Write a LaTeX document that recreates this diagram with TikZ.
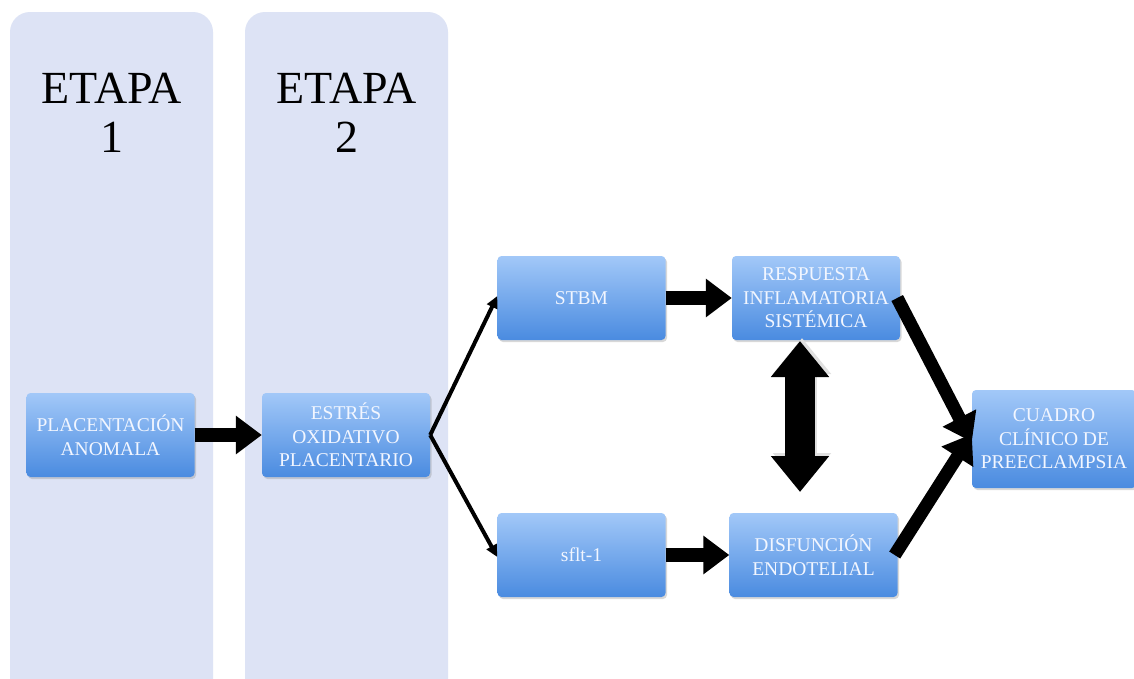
\documentclass[tikz,border=0pt]{standalone}
\usepackage{fontspec}
\setmainfont{Liberation Serif}
\usetikzlibrary{arrows.meta,shadows}
\definecolor{panel}{HTML}{DDE3F5}
\definecolor{boxtop}{HTML}{A2C8F8}
\definecolor{boxbot}{HTML}{4A8BE0}
\definecolor{boxtxt}{HTML}{F2F6FF}
\tikzset{
  panelbox/.style={fill=panel, draw=none, rounded corners=20pt},
  stagelabel/.style={align=center, font=\fontsize{46}{49}\selectfont, text=black},
  flowbox/.style={rounded corners=4pt, top color=boxtop, bottom color=boxbot, draw=none,
    drop shadow={shadow xshift=1.5pt, shadow yshift=-2pt, opacity=0.3},
    minimum width=168pt, minimum height=84pt, align=center, text=boxtxt,
    font=\fontsize{19.5}{23.5}\selectfont, inner sep=2pt},
  bigarrow/.style={line width=14pt, -{Triangle[width=37pt,length=26pt]}},
  thinarrow/.style={line width=4pt, -{Triangle[width=11pt,length=12pt]}},
  diagarrow/.style={line width=13pt, -{Triangle[width=36pt,length=27pt]}},
  dblarrow/.style={line width=30pt, {Triangle[width=56pt,length=36pt]}-{Triangle[width=56pt,length=36pt]}}
}
\begin{document}
\begin{tikzpicture}[x=1pt,y=-1pt]
\useasboundingbox (0,0) rectangle (1134,678);
\fill[white] (0,0) rectangle (1134,678);
\begin{scope}
\clip (0,0) rectangle (1134,678);
\fill[panelbox] (10,12) rectangle (213,700);
\fill[panelbox] (245,12) rectangle (448,700);
\end{scope}
\node[stagelabel] (s1) at (112,113) {ETAPA\\1};
\node[stagelabel] (s2) at (347,113) {ETAPA\\2};

\node[flowbox] (pa) at (110.5,435) {PLACENTACIÓN\\ANOMALA};
\node[flowbox] (eo) at (346,435) {ESTRÉS\\OXIDATIVO\\PLACENTARIO};
\node[flowbox] (st) at (581.5,298) {STBM};
\node[flowbox] (ri) at (816,298) {RESPUESTA\\INFLAMATORIA\\SISTÉMICA};
\node[flowbox] (sf) at (581.5,555) {sflt-1};
\node[flowbox] (de) at (813.5,555) {DISFUNCIÓN\\ENDOTELIAL};
\node[flowbox, minimum width=164pt, minimum height=98pt] (cc) at (1054,439) {CUADRO\\CLÍNICO DE\\PREECLAMPSIA};

\draw[bigarrow] (pa.east) -- (eo.west);
\draw[bigarrow] (st.east) -- (ri.west);
\draw[bigarrow] (sf.east) -- (de.west);
\draw[thinarrow] (eo.east) -- ([yshift=2pt]st.west);
\draw[thinarrow] (eo.east) -- ([yshift=-2pt]sf.west);
\coordinate (dt) at (800,341);
\coordinate (db) at (800,492);
\draw[dblarrow, black!12] ([xshift=2pt,yshift=3pt]dt) -- ([xshift=2pt,yshift=3pt]db);
\draw[dblarrow] (dt) -- (db);
\draw[diagarrow] ([xshift=-3pt]ri.east) -- ([yshift=-3pt]cc.west);
\draw[diagarrow] ([xshift=-3pt]de.east) -- ([yshift=5pt]cc.west);
\end{tikzpicture}
\end{document}
